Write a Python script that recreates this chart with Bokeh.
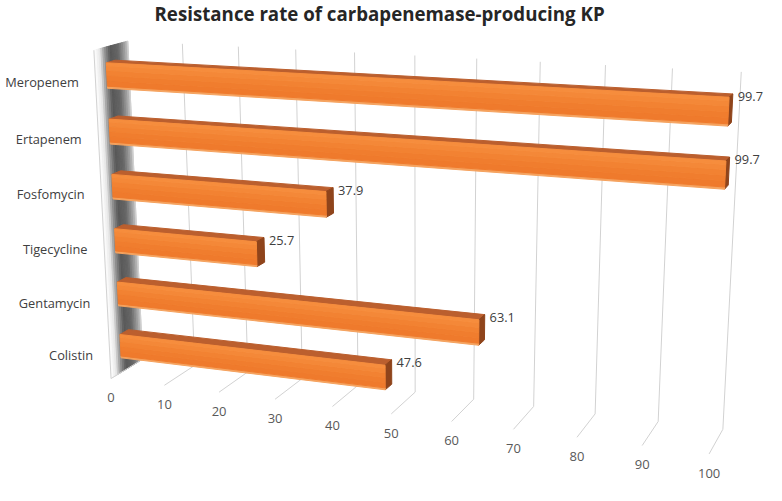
import numpy as np
from bokeh.plotting import figure
from bokeh.models import Range1d, ColumnDataSource
from bokeh.embed import file_html
from bokeh.resources import INLINE
from bokeh.core.properties import value

# ---------------- data ----------------
title_text = "Resistance rate of carbapenemase-producing KP"
categories = ["Meropenem", "Ertapenem", "Fosfomycin", "Tigecycline", "Gentamycin", "Colistin"]
rates = [99.7, 99.7, 37.9, 25.7, 63.1, 47.6]
tick_values = [0, 10, 20, 30, 40, 50, 60, 70, 80, 90, 100]
tick_labels = ["0", "10", "20", "30", "40", "50", "60", "70", "80", "90", "100"]

# ---------------- 3-D view (perspective camera, layout only) ----------------
# world: X = value, Y = category axis (one unit per category), Z = depth (0 = back wall)
CAMERA = np.array([
    [5.08009, -3.63285, -23.9423, 145.11],
    [0.217788, -55.1238, 4.8981, 370.517],
    [-0.00114357, -0.0084704, -0.0216268, 1.0],
])
Z_FLOOR_FRONT = 1.5
Z_BAR_FRONT = 1.0
Z_BAR_BACK = 0.6
GAP_LO, GAP_HI = 0.275, 0.725      # bar extent inside each category band

def proj(X, Y, Z):
    X, Y, Z = np.broadcast_arrays(np.asarray(X, float), np.asarray(Y, float), np.asarray(Z, float))
    h = CAMERA @ np.vstack([X.ravel(), Y.ravel(), Z.ravel(), np.ones(X.size)])
    return h[0] / h[2], h[1] / h[2]

def hexmix(c1, c2, t):
    a = [int(c1[i:i + 2], 16) for i in (1, 3, 5)]
    b = [int(c2[i:i + 2], 16) for i in (1, 3, 5)]
    return "#%02x%02x%02x" % tuple(round(a[i] + (b[i] - a[i]) * t) for i in range(3))

n = len(categories)
rows = [n - 1 - k for k in range(n)]
YT = n

def new_polys():
    return {"xs": [], "ys": [], "c": []}

def add_poly(store, pts3, color):
    X, Y, Z = zip(*pts3)
    u, v = proj(X, Y, Z)
    store["xs"].append(list(u)); store["ys"].append(list(v)); store["c"].append(color)

# side wall (X = 0) with shaded gradient
wall = new_polys()
wall_stops = [(0.0, "#d2d2d2"), (0.12, "#a0a0a0"), (0.32, "#666666"), (0.55, "#585858"),
              (0.72, "#979797"), (0.85, "#e6e6e6"), (1.0, "#ffffff")]
def wall_color(t):
    for (t0, c0), (t1, c1) in zip(wall_stops[:-1], wall_stops[1:]):
        if t <= t1:
            return hexmix(c0, c1, (t - t0) / (t1 - t0))
    return wall_stops[-1][1]
K = 18
for i in range(K):
    z0 = Z_FLOOR_FRONT * i / K; z1 = Z_FLOOR_FRONT * (i + 1) / K
    add_poly(wall, [(0, 0, z0), (0, 0, z1), (0, YT, z1), (0, YT, z0)], wall_color((i + 0.5) / K))

# bars
bars = new_polys()
front_cols = ["#f5a25e", "#ef7a2c", "#f07d2e", "#f28232", "#f48838", "#f68d3d"]
front_cuts = [0.0, 0.08, 0.3, 0.5, 0.7, 0.88, 1.0]
for k in range(n):
    r = rows[k]; val = rates[k]; y0 = r + GAP_LO; y1 = r + GAP_HI
    add_poly(bars, [(0, y1, Z_BAR_FRONT), (val, y1, Z_BAR_FRONT), (val, y1, Z_BAR_BACK), (0, y1, Z_BAR_BACK)], "#bb5f2e")
    add_poly(bars, [(val, y0, Z_BAR_FRONT), (val, y0, Z_BAR_BACK), (val, y1, Z_BAR_BACK), (val, y1, Z_BAR_FRONT)], "#8f441b")
    for j, c in enumerate(front_cols):
        a = y0 + (y1 - y0) * front_cuts[j]; b = y0 + (y1 - y0) * front_cuts[j + 1]
        add_poly(bars, [(0, a, Z_BAR_FRONT), (val, a, Z_BAR_FRONT), (val, b, Z_BAR_FRONT), (0, b, Z_BAR_FRONT)], c)

# ---------------- figure ----------------
p = figure(width=766, height=485, x_range=Range1d(0, 782), y_range=Range1d(501, 0),
           output_backend="svg", toolbar_location=None, x_axis_location=None, y_axis_location=None,
           min_border=0)
p.grid.visible = False
p.outline_line_color = None
p.background_fill_color = "white"
p.border_fill_color = "white"

p.patches("xs", "ys", source=ColumnDataSource(wall), fill_color="c", line_color="c", line_width=1)

gx, gy = [], []
for t in tick_values:
    u, v = proj([t, t], [0, YT], [0, 0]); gx.append(list(u)); gy.append(list(v))
    u, v = proj([t, t], [0, 0], [0, Z_FLOOR_FRONT]); gx.append(list(u)); gy.append(list(v))
u, v = proj([0, 0], [0, YT], [Z_FLOOR_FRONT, Z_FLOOR_FRONT]); gx.append(list(u)); gy.append(list(v))
p.multi_line(gx, gy, line_color="#d2d2d2", line_width=1)

p.patches("xs", "ys", source=ColumnDataSource(bars), fill_color="c", line_color="c", line_width=1)

FONT = value("Open Sans")
cu, cv = proj(np.zeros(n), np.array(rows) + 0.5, Z_FLOOR_FRONT)
p.text(x=list(cu - 17), y=list(cv + 3), text=categories, text_font=FONT, text_font_size="12.8px",
       text_align="right", text_baseline="middle", text_color="#404040")
vu, vv = proj(rates, np.array(rows) + GAP_HI, Z_BAR_BACK)
p.text(x=list(vu + 5), y=list(vv + 3), text=["%.1f" % r for r in rates], text_font=FONT,
       text_font_size="12.8px", text_align="left", text_baseline="middle", text_color="#404040")
tu, tv = proj(tick_values, 0, Z_FLOOR_FRONT)
p.text(x=list(tu), y=list(tv + 20), text=tick_labels, text_font=FONT, text_font_size="13px",
       text_align="center", text_baseline="middle", text_color="#595959")
p.text(x=[387], y=[13], text=[title_text], text_font=FONT, text_font_size="18.7px", text_font_style="bold",
       text_align="center", text_baseline="middle", text_color="#262626")

open("out.html", "w").write(file_html(p, INLINE))
